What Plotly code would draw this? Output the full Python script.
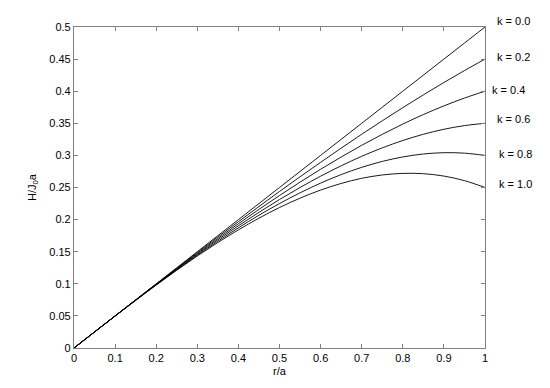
import plotly.graph_objects as go

r = [0, 0.05, 0.1, 0.15, 0.2, 0.25, 0.3, 0.35, 0.4, 0.45, 0.5,
     0.55, 0.6, 0.65, 0.7, 0.75, 0.8, 0.85, 0.9, 0.95, 1.0]

h_k00 = [0, 0.025, 0.05, 0.075, 0.1, 0.125, 0.15, 0.175, 0.2, 0.225, 0.25,
         0.275, 0.3, 0.325, 0.35, 0.375, 0.4, 0.425, 0.45, 0.475, 0.5]
h_k02 = [0, 0.025, 0.050, 0.0748, 0.0996, 0.1242, 0.1487, 0.1729, 0.1968, 0.2204, 0.2438,
         0.2667, 0.2892, 0.3113, 0.3329, 0.3539, 0.3744, 0.3943, 0.4136, 0.4321, 0.45]
h_k04 = [0, 0.025, 0.0499, 0.0747, 0.0992, 0.1234, 0.1473, 0.1707, 0.1936, 0.2159, 0.2375,
         0.2584, 0.2784, 0.2975, 0.3157, 0.3328, 0.3488, 0.3636, 0.3771, 0.3893, 0.40]
h_k06 = [0, 0.025, 0.0499, 0.0745, 0.0988, 0.1227, 0.1460, 0.1686, 0.1904, 0.2113, 0.2313,
         0.2500, 0.2676, 0.2838, 0.2986, 0.3117, 0.3232, 0.3329, 0.3407, 0.3464, 0.35]
h_k08 = [0, 0.025, 0.0498, 0.0743, 0.0984, 0.1219, 0.1446, 0.1664, 0.1872, 0.2068, 0.2250,
         0.2417, 0.2568, 0.2701, 0.2814, 0.2906, 0.2976, 0.3022, 0.3042, 0.3035, 0.30]
h_k10 = [0, 0.0250, 0.0498, 0.0742, 0.0980, 0.1211, 0.1433, 0.1643, 0.1840, 0.2022, 0.2188,
         0.2334, 0.2460, 0.2563, 0.2643, 0.2695, 0.2720, 0.2715, 0.2678, 0.2607, 0.25]

series = [h_k00, h_k02, h_k04, h_k06, h_k08, h_k10]
labels = ["k = 0.0", "k = 0.2", "k = 0.4", "k = 0.6", "k = 0.8", "k = 1.0"]
label_y = [0.509, 0.4536, 0.4025, 0.356, 0.302, 0.255]
label_x = [1.025, 1.025, 1.012, 1.025, 1.03, 1.03]
y_max = 0.5

x_ticks = [0, 0.1, 0.2, 0.3, 0.4, 0.5, 0.6, 0.7, 0.8, 0.9, 1]
x_tick_text = ["0", "0.1", "0.2", "0.3", "0.4", "0.5", "0.6", "0.7", "0.8", "0.9", "1"]
y_ticks = [0, 0.05, 0.1, 0.15, 0.2, 0.25, 0.3, 0.35, 0.4, 0.45, 0.5]
y_tick_text = ["0", "0.05", "0.1", "0.15", "0.2", "0.25", "0.3", "0.35", "0.4", "0.45", "0.5"]

fig = go.Figure()
for ys in series:
    fig.add_trace(go.Scatter(x=r, y=ys, mode="lines",
                             line=dict(color="black", width=0.9),
                             line_shape="spline", showlegend=False))

for lab, ly, lx in zip(labels, label_y, label_x):
    fig.add_annotation(x=lx, y=ly / y_max, xref="paper", yref="paper", text=lab,
                       showarrow=False, xanchor="left", yanchor="middle",
                       font=dict(size=11, color="black"))

axis_common = dict(showgrid=False, zeroline=False, showline=True,
                   linecolor="#808080", linewidth=1.2, mirror="ticks",
                   ticks="inside", ticklen=4, tickcolor="#808080",
                   tickfont=dict(size=11, color="black"))

fig.update_xaxes(range=[0, 1], tickvals=x_ticks, ticktext=x_tick_text,
                 title=dict(text="r/a", font=dict(size=11, color="black"), standoff=4),
                 **axis_common)
fig.update_yaxes(range=[0, y_max], tickvals=y_ticks, ticktext=y_tick_text,
                 title=dict(text="H/J<sub>0</sub>a", font=dict(size=11, color="black"), standoff=10),
                 **axis_common)

fig.update_layout(width=550, height=388,
                  margin=dict(l=74, r=65, t=27, b=38),
                  plot_bgcolor="white", paper_bgcolor="white",
                  font=dict(family="Liberation Sans, Arial, sans-serif", size=11, color="black"))

fig.write_html("out.html")
